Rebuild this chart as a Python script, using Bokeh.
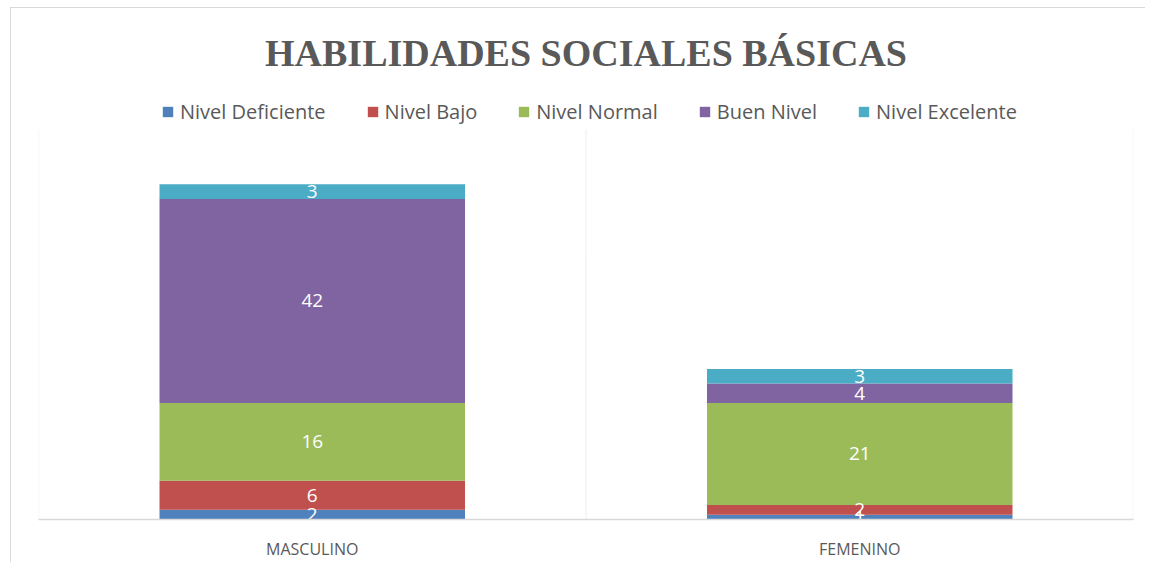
from bokeh.plotting import figure
from bokeh.models import ColumnDataSource, Legend, LegendItem, BoxAnnotation
from bokeh.core.properties import value
from bokeh.embed import file_html
from bokeh.resources import INLINE

categories = ["MASCULINO", "FEMENINO"]
series_names = ["Nivel Deficiente", "Nivel Bajo", "Nivel Normal", "Buen Nivel", "Nivel Excelente"]
nivel_deficiente = [2, 1]
nivel_bajo = [6, 2]
nivel_normal = [16, 21]
buen_nivel = [42, 4]
nivel_excelente = [3, 3]
colors = ["#4F81BD", "#C0504D", "#9BBB59", "#8064A2", "#4BACC6"]

keys = ["s0", "s1", "s2", "s3", "s4"]
data = dict(cat=categories, s0=nivel_deficiente, s1=nivel_bajo, s2=nivel_normal,
            s3=buen_nivel, s4=nivel_excelente)
source = ColumnDataSource(data)

AX_TOP = 80.3
p = figure(x_range=categories, y_range=(0, 87.7), width=1135, height=555,
           output_backend="svg", toolbar_location=None,
           min_border_left=27, min_border_right=13, min_border_bottom=44, min_border_top=85)
p.styles = {"margin-left": "10px", "margin-top": "7px",
            "border-left": "1px solid #D9D9D9", "border-top": "1px solid #D9D9D9"}

p.title.text = "HABILIDADES SOCIALES BÁSICAS"
p.title.align = "center"
p.title.text_font = "Liberation Serif"
p.title.text_font_style = "bold"
p.title.text_font_size = "38px"
p.title.text_color = "#595959"
p.title.standoff = 40

renderers = p.vbar_stack(keys, x="cat", width=0.558, color=colors, line_color=None, source=source)

# labels
lx, ly, lt = [], [], []
for i, c in enumerate(categories):
    cum = 0
    for k in keys:
        v = data[k][i]
        lx.append(c)
        ly.append(cum + v / 2)
        lt.append(str(v))
        cum += v
p.text(x=lx, y=ly, text=lt, text_align="center", text_baseline="middle",
       text_color="white", text_font=value("Open Sans"), text_font_size="19px")

for loc in [0, 1, 2]:
    p.add_layout(BoxAnnotation(left=loc, right=loc, bottom=0, top=AX_TOP,
                               fill_alpha=0, line_color="#D9D9D9", line_width=1.5))

legend = Legend(items=[LegendItem(label=n, renderers=[r]) for n, r in zip(series_names, renderers)],
                orientation="horizontal", location=(123, 394),
                glyph_width=13, glyph_height=13, label_standoff=6, spacing=40,
                padding=0, margin=0, border_line_color=None, background_fill_alpha=0,
                label_text_font="Open Sans", label_text_font_size="20px", label_text_color="#595959")
p.add_layout(legend)

p.yaxis.visible = False
p.xgrid.grid_line_color = None
p.ygrid.grid_line_color = None
p.outline_line_color = None
p.xaxis.axis_line_color = "#D9D9D9"
p.xaxis.axis_line_width = 1.5
p.xaxis.major_tick_line_color = None
p.xaxis.minor_tick_line_color = None
p.xaxis.major_tick_out = 0
p.xaxis.major_tick_in = 0
p.xaxis.major_label_standoff = 18
p.xaxis.major_label_text_font = "Open Sans"
p.xaxis.major_label_text_font_size = "16px"
p.xaxis.major_label_text_color = "#595959"

open("out.html", "w").write(file_html(p, INLINE))
